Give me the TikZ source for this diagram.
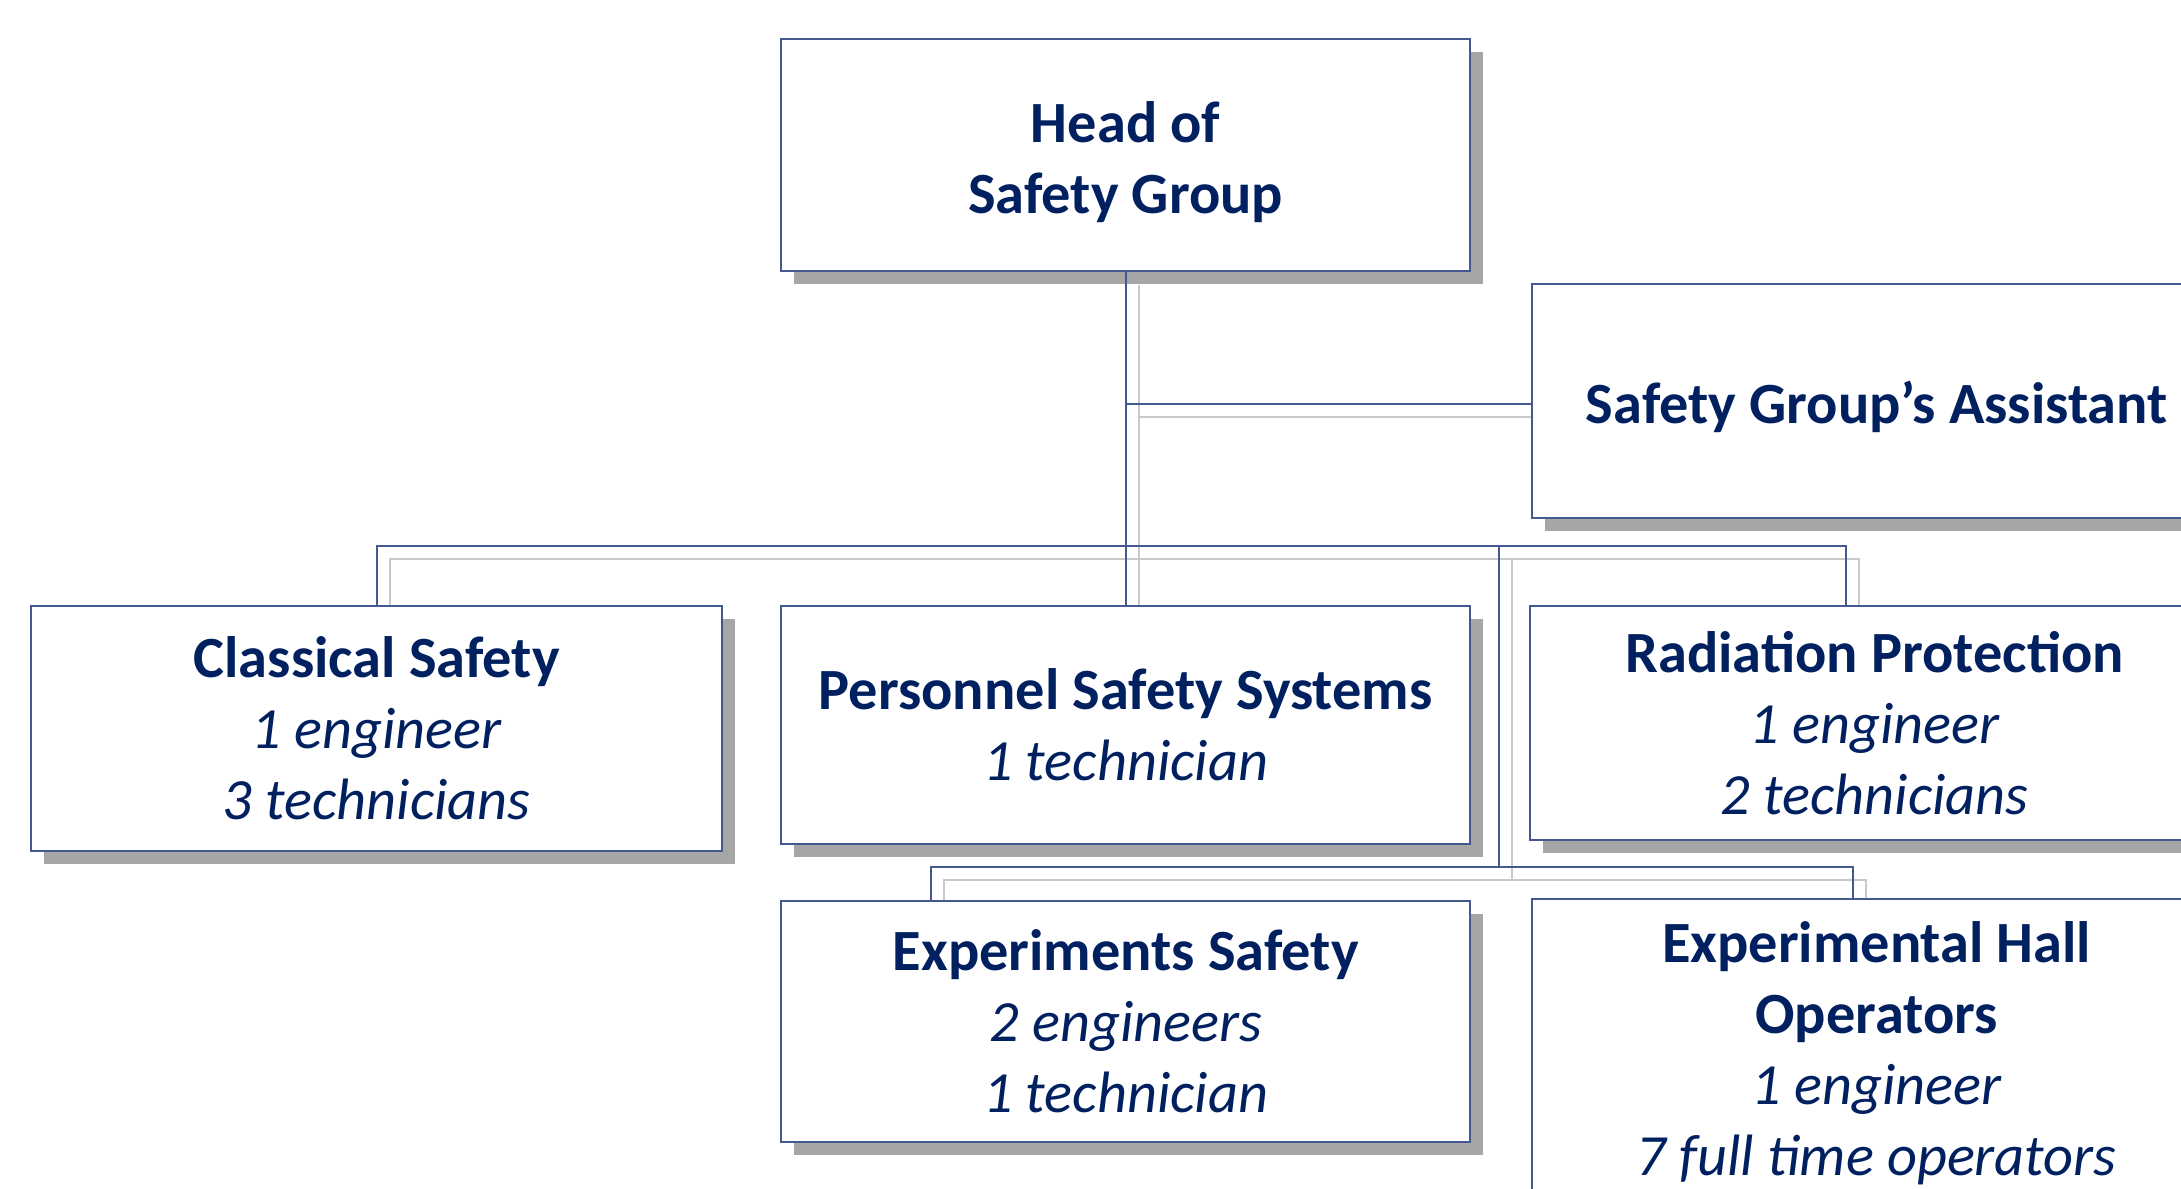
\documentclass[tikz,border=0pt]{standalone}
\usepackage{fontspec}
\setmainfont{Carlito}
\usetikzlibrary{shadows,calc}
\pgfdeclarelayer{background}
\pgfsetlayers{background,main}
\definecolor{txt}{HTML}{002060}
\definecolor{edge}{HTML}{44598F}
\definecolor{shd}{HTML}{A6A6A6}
\definecolor{lgray}{HTML}{C9C9C9}
\begin{document}
\begin{tikzpicture}[x=0.01cm,y=-0.01cm,
  orgbox/.style={draw=edge, line width=0.55pt, fill=white, anchor=north west,
    align=center, text=txt, inner sep=0pt,
    font=\fontsize{16.6}{20.2}\selectfont,
    drop shadow={shadow xshift=0.13cm, shadow yshift=-0.13cm, fill=shd, opacity=1}},
  link/.style={draw=edge, line width=0.55pt},
  glink/.style={draw=lgray, line width=0.55pt, transform canvas={xshift=0.13cm,yshift=-0.13cm}}]
\useasboundingbox (0,0) rectangle (2181,1189);
\clip (0,0) rectangle (2181,1189);

\node[orgbox, minimum width=6.89cm, minimum height=2.32cm] (head) at (780,38)
  {\rule{0pt}{0.56cm}\textbf{Head of}\\\textbf{Safety Group}};
\node[orgbox, minimum width=6.89cm, minimum height=2.34cm] (asst) at (1531,283)
  {\rule{0pt}{0.54cm}\textbf{Safety Group’s Assistant}};
\node[orgbox, minimum width=6.91cm, minimum height=2.45cm] (cs) at (30,605)
  {\textbf{Classical Safety}\\\textit{1 engineer}\\\textit{3 technicians}};
\node[orgbox, minimum width=6.89cm, minimum height=2.38cm] (pss) at (780,605)
  {\textbf{Personnel Safety Systems}\\\textit{1 technician}};
\node[orgbox, minimum width=6.89cm, minimum height=2.34cm] (rp) at (1529,605)
  {\textbf{Radiation Protection}\\\textit{1 engineer}\\\textit{2 technicians}};
\node[orgbox, minimum width=6.89cm, minimum height=2.41cm] (es) at (780,900)
  {\textbf{Experiments Safety}\\\textit{2 engineers}\\\textit{1 technician}};
\node[orgbox, minimum width=6.89cm, minimum height=3.08cm] (eho) at (1531,898)
  {\textbf{Experimental Hall}\\\textbf{Operators}\\\textit{1 engineer}\\\textit{7 full time operators}};

\coordinate (bar) at (1499,546);
\coordinate (lowbar) at (1499,867);
\coordinate (asin) at ($(asst.north west)+(0,121)$);
\coordinate (rpin) at ($(rp.north west)+(317,0)$);
\coordinate (esin) at ($(es.north west)+(151,0)$);
\coordinate (ehoin) at ($(eho.north west)+(322,0)$);

\begin{pgfonlayer}{background}
  \draw[glink] (head.south) -- (pss.north);
  \draw[glink] (head.south |- asin) -- (asin);
  \draw[glink] (cs.north) -- (cs.north |- bar) -- (rpin |- bar) -- (rpin);
  \draw[glink] (bar) -- (lowbar);
  \draw[glink] (esin) -- (esin |- lowbar) -- (ehoin |- lowbar) -- (ehoin);
\end{pgfonlayer}

\draw[link] (head.south) -- (pss.north);
\draw[link] (head.south |- asin) -- (asin);
\draw[link] (cs.north) -- (cs.north |- bar) -- (rpin |- bar) -- (rpin);
\draw[link] (bar) -- (lowbar);
\draw[link] (esin) -- (esin |- lowbar) -- (ehoin |- lowbar) -- (ehoin);
\end{tikzpicture}
\end{document}
